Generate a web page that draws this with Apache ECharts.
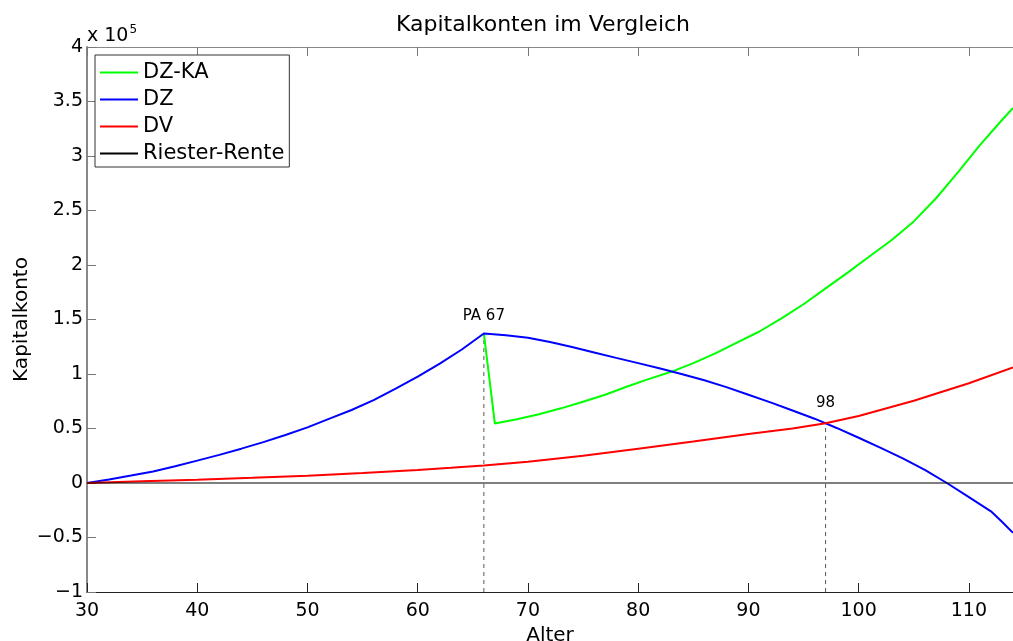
<!DOCTYPE html>
<html>
<head>
<meta charset="utf-8">
<script src="https://cdn.jsdelivr.net/npm/echarts@6/dist/echarts.min.js"></script>
<style>html,body{margin:0;padding:0;background:#fff;}#c{width:1013px;height:641px;}</style>
</head>
<body>
<div id="c"></div>
<script>
// Values in units of 10^5
var dzkaAges   = [66, 67, 69, 71, 73, 75, 77, 79, 81, 83, 85, 87, 89, 91, 93, 95, 97, 99, 101, 103, 105, 107, 109, 111, 113, 114];
var dzkaValues = [1.372, 0.545, 0.585, 0.63, 0.685, 0.745, 0.81, 0.885, 0.955, 1.02, 1.1, 1.19, 1.29, 1.39, 1.51, 1.64, 1.785, 1.93, 2.08, 2.23, 2.4, 2.61, 2.85, 3.1, 3.33, 3.44];

var dzAges   = [30, 32, 34, 36, 38, 40, 42, 44, 46, 48, 50, 52, 54, 56, 58, 60, 62, 64, 66,
                68, 70, 72, 74, 76, 78, 80, 82, 84, 86, 88, 90, 92, 94, 96, 98, 100, 102, 104, 106, 108, 110, 112, 113, 114];
var dzValues = [0, 0.033, 0.068, 0.106, 0.153, 0.205, 0.258, 0.315, 0.375, 0.44, 0.51, 0.59, 0.67, 0.76, 0.865, 0.975, 1.095, 1.225, 1.372,
                1.356, 1.333, 1.293, 1.248, 1.198, 1.148, 1.10, 1.05, 0.998, 0.943, 0.88, 0.81, 0.74, 0.665, 0.59, 0.505, 0.415, 0.323, 0.225, 0.12, 0.0, -0.13, -0.26, -0.355, -0.457];

var dvAges   = [30, 35, 40, 45, 50, 55, 60, 63, 66, 70, 75, 80, 85, 90, 94, 97, 100, 105, 110, 114];
var dvValues = [0, 0.015, 0.03, 0.048, 0.067, 0.092, 0.12, 0.14, 0.161, 0.195, 0.25, 0.315, 0.38, 0.45, 0.5, 0.549, 0.615, 0.755, 0.915, 1.06];

var riesterAges   = [30, 114];
var riesterValues = [0, 0];

var markerAges   = [66, 97];
var markerTops   = [1.372, 0.549];
var markerLabels = ['PA 67', '98'];

var xTicks = [30, 40, 50, 60, 70, 80, 90, 100, 110];
var seriesNames = ['DZ-KA', 'DZ', 'DV', 'Riester-Rente'];

function pairs(a, v) { return a.map(function (x, i) { return [x, v[i]]; }); }

var WFONT = 'DejaVu Sans, Liberation Sans, sans-serif';
var chart = echarts.init(document.getElementById('c'), null, { renderer: 'canvas' });

var labelGaps = [9, 12];
var markerSeries = markerAges.map(function (a, i) {
  return {
    type: 'line', name: 'marker' + i, silent: true, z: 1, symbol: 'none',
    lineStyle: { color: '#555', width: 1, type: [4, 4] },
    data: [[a, -1], [a, markerTops[i]]],
    markPoint: {
      symbol: 'circle', symbolSize: 1, silent: true,
      itemStyle: { color: 'rgba(0,0,0,0)' },
      label: { show: true, position: 'top', distance: labelGaps[i],
               fontFamily: 'DejaVu Sans, sans-serif', fontSize: 15, color: '#000',
               formatter: function (p) { return p.name; } },
      data: [{ name: markerLabels[i], coord: [a, markerTops[i]] }]
    }
  };
});

chart.setOption({
  animation: false,
  backgroundColor: '#fff',
  title: {
    text: 'Kapitalkonten im Vergleich', left: 538, textAlign: 'center', top: 9,
    textStyle: { fontFamily: WFONT, fontSize: 22, fontWeight: 'normal', color: '#000' }
  },
  grid: { left: 87, right: 0, top: 47, bottom: 49, containLabel: false, outerBoundsMode: 'none' },
  legend: {
    data: seriesNames, orient: 'vertical', left: 95, top: 55,
    backgroundColor: '#fff', borderColor: '#333', borderWidth: 1,
    padding: [7, 5, 3, 5], itemGap: 6, itemWidth: 38, itemHeight: 2, icon: 'rect',
    textStyle: { fontFamily: WFONT, fontSize: 21, color: '#000', lineHeight: 20 }
  },
  xAxis: [{
    type: 'value', min: 30, max: 114, interval: 10,
    name: 'Alter', nameLocation: 'middle', nameGap: 32,
    nameTextStyle: { fontFamily: WFONT, fontSize: 20, color: '#000' },
    axisLine: { show: true, onZero: false, lineStyle: { color: '#222', width: 1 } },
    axisTick: { show: true, inside: true, length: 9, lineStyle: { color: '#222' } },
    axisLabel: { fontFamily: WFONT, fontSize: 19, color: '#000', margin: 10,
                 formatter: function (v) { return xTicks.indexOf(v) >= 0 ? String(v) : ''; } },
    splitLine: { show: false }
  }, {
    type: 'value', min: 30, max: 114, interval: 10, position: 'top',
    axisLine: { show: true, onZero: false, lineStyle: { color: '#888', width: 1 } },
    axisTick: { show: true, inside: true, length: 9, lineStyle: { color: '#777' } },
    axisLabel: { show: false }, splitLine: { show: false }
  }],
  yAxis: {
    type: 'value', min: -1, max: 4, interval: 0.5,
    name: 'Kapitalkonto', nameLocation: 'middle', nameGap: 55, nameRotate: 90, nameMoveOverlap: false,
    nameTextStyle: { fontFamily: WFONT, fontSize: 20, color: '#000' },
    axisLine: { show: true, onZero: false, lineStyle: { color: '#888', width: 2 } },
    axisTick: { show: true, inside: true, length: 9, lineStyle: { color: '#777' } },
    axisLabel: { fontFamily: WFONT, fontSize: 19, color: '#000', margin: 4,
                 formatter: function (v) { return v < 0 ? '\u2212' + String(-v) : String(v); } },
    splitLine: { show: false }
  },
  graphic: [{
    type: 'text', left: 87, top: 24,
    style: {
      text: '{a|x 10}{b|5}', fill: '#000',
      rich: {
        a: { fontFamily: WFONT, fontSize: 19, verticalAlign: 'bottom', lineHeight: 22 },
        b: { fontFamily: WFONT, fontSize: 12, verticalAlign: 'top', lineHeight: 22, padding: [0, 0, 12, 1] }
      }
    }
  }],
  series: markerSeries.concat([
    { type: 'line', name: 'DZ-KA', symbol: 'none', z: 2, color: '#00ff00',
      lineStyle: { color: '#00ff00', width: 2 }, data: pairs(dzkaAges, dzkaValues) },
    { type: 'line', name: 'DZ', symbol: 'none', z: 3, color: '#0000ff',
      lineStyle: { color: '#0000ff', width: 2 }, data: pairs(dzAges, dzValues) },
    { type: 'line', name: 'DV', symbol: 'none', z: 4, color: '#ff0000',
      lineStyle: { color: '#ff0000', width: 2 }, data: pairs(dvAges, dvValues) },
    { type: 'line', name: 'Riester-Rente', symbol: 'none', z: 5, color: '#000',
      lineStyle: { color: '#000', width: 1.2 }, data: pairs(riesterAges, riesterValues) }
  ])
});
</script>
</body>
</html>
